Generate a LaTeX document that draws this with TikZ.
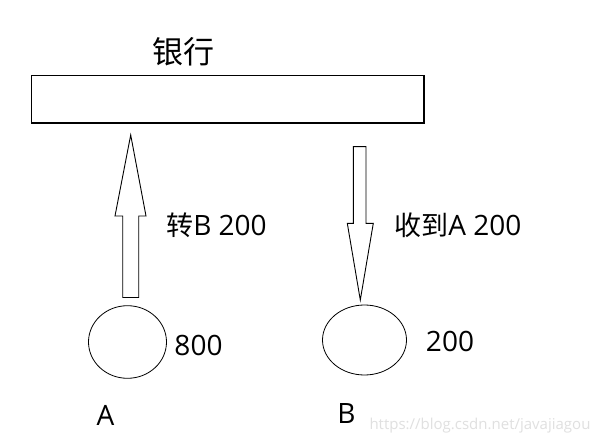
\documentclass[tikz,border=0pt]{standalone}
\usepackage{fontspec}
\setmainfont{Open Sans}
\newfontfamily\cjk{Noto Sans CJK SC}
\begin{document}
\begin{tikzpicture}[x=1pt,y=-1pt,
  lbl/.style={inner sep=0pt, anchor=center, font=\fontsize{28}{30}\selectfont},
  ttl/.style={inner sep=0pt, anchor=center, font=\fontsize{31}{34}\selectfont\cjk},
  blockarrow/.style={draw=black, line width=0.9pt, fill=white, line join=miter},
  wm/.style={inner sep=0pt, anchor=center, text=black!12, font=\fontsize{15}{18}\selectfont}]
\useasboundingbox (0,0) rectangle (598,444);
\fill[white] (0,0) rectangle (598,444);
% bank
\node[ttl] (title) at (183,52) {银行};
\draw[line width=1.3pt] (31.5,75.5) rectangle (424,123);
% accounts
\draw[line width=0.8pt] (127.5,342) ellipse [x radius=39, y radius=36.3];
\draw[line width=0.8pt] (364.5,340) ellipse [x radius=42, y radius=35];
% up arrow (A to bank)
\draw[blockarrow] (122.7,297.5) -- (122.7,216) -- (115,216) -- (130.7,135) -- (146,216) -- (138.7,216) -- (138.7,297.5) -- cycle;
% down arrow (bank to B)
\draw[blockarrow] (353.3,146.7) -- (366,146.7) -- (366,223.3) -- (373.3,223.3) -- (360.3,300) -- (347.3,223.3) -- (353.3,223.3) -- cycle;
% labels
\node[lbl] (tA) at (216.5,225) {{\cjk\fontsize{27}{30}\selectfont 转}B 200};
\node[lbl] (tB) at (458,225) {{\cjk\fontsize{27}{30}\selectfont 收到}A 200};
\node[lbl] (vA) at (198.5,345) {800};
\node[lbl] (vB) at (450,341.5) {200};
\node[lbl] (nA) at (105.5,415.5) {A};
\node[lbl] (nB) at (346.5,414) {B};
\node[wm] (wmark) at (480,426) {https://blog.csdn.net/javajiagou};
\end{tikzpicture}
\end{document}
